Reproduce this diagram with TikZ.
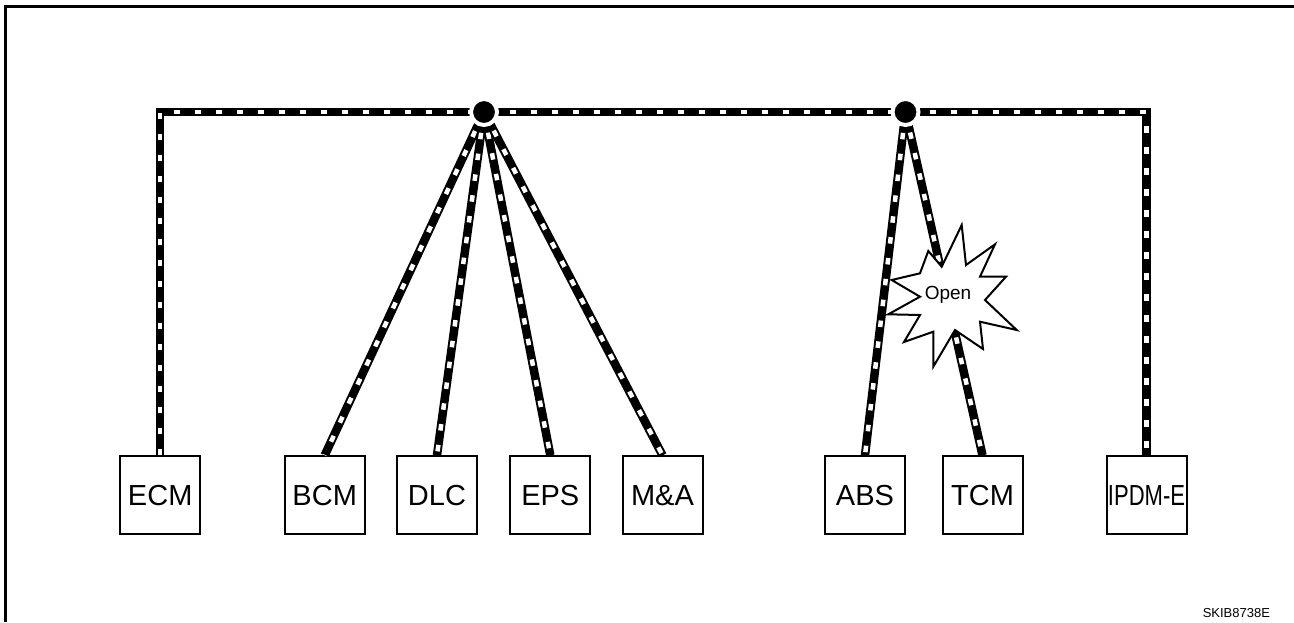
\documentclass[tikz,border=0pt]{standalone}
\usepackage{fontspec}
\setmainfont{Liberation Sans}
\usepackage{graphicx}
\usetikzlibrary{positioning}

\begin{document}
\begin{tikzpicture}[
  x=1pt, y=-1pt,
  ecu/.style={rectangle, draw, line width=2pt, minimum width=80pt, minimum height=78pt, inner sep=0pt, font=\fontsize{29}{31}\selectfont},
  canbus/.style={line width=8.5pt, draw=black, postaction={draw=white, line width=4.5pt, dash pattern=on 6.5pt off 14.5pt}},
  joint/.style={circle, fill=black, draw=white, line width=4pt, minimum size=26pt, inner sep=0pt},
  node distance=112.5pt
]
\useasboundingbox (0,0) rectangle (1294,622);
\draw[line width=3pt] (5.7,622) -- (5.7,6.5) -- (1294,6.5);

\node[ecu] (ecm) at (160.2,495.3) {ECM};
\node[ecu, right of=ecm, node distance=164.5pt] (bcm) {BCM};
\node[ecu, right of=bcm, node distance=112.3pt] (dlc) {DLC};
\node[ecu, right of=dlc, node distance=113.3pt] (eps) {EPS};
\node[ecu, right of=eps, node distance=112.2pt] (m_a) {M\&A};
\node[ecu, right of=m_a, node distance=202.5pt] (abs) {ABS};
\node[ecu, right of=abs, node distance=117.5pt] (tcm) {TCM};
\node[ecu, right of=tcm, node distance=164pt] (ipdm_e) {\scalebox{0.76}[1]{IPDM-E}};

\coordinate (hub_a) at (484,112);
\coordinate (hub_b) at (905.5,112);

\draw[canbus] (ecm.north) |- (hub_a) -- (hub_b) -| (ipdm_e.north);
\draw[canbus] (hub_a) -- (bcm.north);
\draw[canbus] (hub_a) -- (dlc.north);
\draw[canbus] (hub_a) -- (eps.north);
\draw[canbus] (hub_a) -- (m_a.north);
\draw[canbus] (hub_b) -- (abs.north);
\draw[canbus] (hub_b) -- (tcm.north);

\node[joint] (dot_a) at (hub_a) {};
\node[joint] (dot_b) at (hub_b) {};

\draw[line width=2pt, fill=white] (961.7,225) -- (966,265) -- (995,244.3) -- (980,276.7) -- (1006,276.7) -- (985,300) -- (1016.7,330) -- (980,321.7) -- (983,349) -- (955,330) -- (933.3,366.7) -- (933.3,331.7) -- (904,342) -- (920,315) -- (888.3,314.3) -- (920,296.7) -- (891.7,280) -- (920,273.3) -- (928.3,251) -- (941.7,266.7) -- cycle;
\node[font=\fontsize{19}{21}\selectfont] (open_txt) at (948,295) {Open};

\node[anchor=east, font=\fontsize{13}{15}\selectfont] (fig_id) at (1273.5,612.7) {SKIB8738E};
\end{tikzpicture}
\end{document}
